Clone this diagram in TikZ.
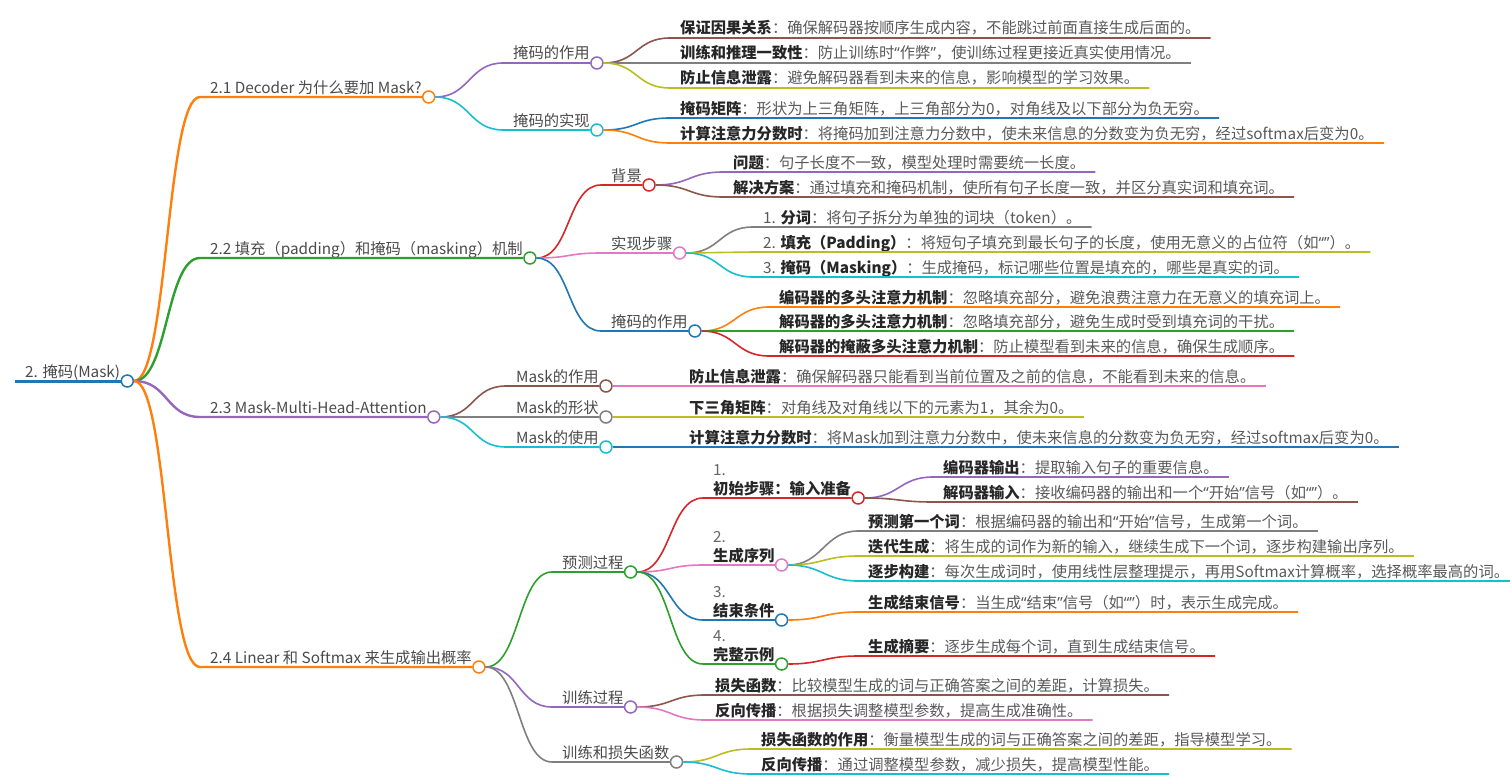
\documentclass[tikz,border=0pt]{standalone}
\usepackage{fontspec}
\setmainfont{Noto Sans CJK SC}
\newfontfamily\quotefont{Noto Sans}
\usetikzlibrary{calc}

\definecolor{cblue}{HTML}{1F77B4}
\definecolor{corange}{HTML}{FF7F0E}
\definecolor{cgreen}{HTML}{2CA02C}
\definecolor{cred}{HTML}{D62728}
\definecolor{cpurple}{HTML}{9467BD}
\definecolor{cbrown}{HTML}{8C564B}
\definecolor{cpink}{HTML}{E377C2}
\definecolor{cgray}{HTML}{7F7F7F}
\definecolor{colive}{HTML}{BCBD22}
\definecolor{ccyan}{HTML}{17BECF}
\definecolor{topicc}{HTML}{4A4A4A}
\definecolor{leafc}{HTML}{595959}
\definecolor{keyc}{HTML}{262626}
\definecolor{numc}{HTML}{666666}

\newcommand{\kw}[1]{\textbf{\color{keyc}#1}}
\newcommand{\oq}{{\quotefont “}}
\newcommand{\cq}{{\quotefont ”}}
% topic with a dot: [opts] parent, name, x, y, colour, text
\newcommand{\mmtopic}[7][]{%
  \coordinate (#3-s) at (#4,#5);
  \node[topic] (#3) at ([shift={(10pt,4pt)}]#3-s) {#7};
  \node[dot, draw=#6] (#3-d) at ([shift={(7pt,-4pt)}]#3.base east) {};
  \draw[link, #6, #1] (#2-d.east) to[curvy] (#3-s) -- (#3-d.west);
}
% numbered step: parent, name, x, y, colour, number, text
\newcommand{\mmstep}[7]{%
  \coordinate (#2-s) at (#3,#4);
  \node[topic] (#2) at ([shift={(10pt,4pt)}]#2-s) {\kw{#7}};
  \node[numtxt] (#2-n) at ([yshift=19pt]#2.base west) {#6};
  \node[dot, draw=#5] (#2-d) at ([shift={(7pt,-4pt)}]#2.base east) {};
  \draw[link, #5] (#1-d.east) to[curvy] (#2-s) -- (#2-d.west);
}
% leaf: parent, name, x, y, colour, text
\newcommand{\mmleaf}[6]{%
  \coordinate (#2-s) at (#3,#4);
  \node[leaf] (#2) at ([shift={(10pt,4pt)}]#2-s) {#6};
  \draw[link, #5] (#1-d.east) to[curvy] (#2-s) -- ([shift={(10pt,-4pt)}]#2.base east);
}

\begin{document}
\begin{tikzpicture}[
  x=1pt, y=-1pt,
  font=\fontsize{15.3}{18}\selectfont,
  topic/.style={anchor=base west, inner sep=0pt, text=topicc},
  leaf/.style={anchor=base west, inner sep=0pt, text=leafc},
  numtxt/.style={anchor=base west, inner sep=0pt, text=numc},
  dot/.style={circle, draw, fill=white, line width=1.5pt, minimum size=12pt, inner sep=0pt},
  link/.style={line width=1.6pt},
  trunk/.style={line width=2.4pt},
  curvy/.style={to path={.. controls +(34,0) and +(-34,0) .. (\tikztotarget)}}
]
  \useasboundingbox (0,0) rectangle (1510,784);

  % Root
  \coordinate (root-s) at (15,381);
  \node[topic] (root) at ([shift={(10pt,4pt)}]root-s) {2. 掩码(Mask)};
  \node[dot, draw=cblue] (root-d) at ([shift={(7pt,-4pt)}]root.base east) {};
  \draw[link, cblue, line width=3pt] (root-s) -- (root-d.west);

  % 2.1
  \mmtopic[trunk]{root}{a}{200}{97}{corange}{2.1 Decoder 为什么要加 Mask?}
  \mmtopic{a}{a1}{503}{63}{cpurple}{掩码的作用}
  \mmleaf{a1}{a11}{670}{38}{cbrown}{\kw{保证因果关系}：确保解码器按顺序生成内容，不能跳过前面直接生成后面的。}
  \mmleaf{a1}{a12}{670}{63}{cgray}{\kw{训练和推理一致性}：防止训练时\oq 作弊\cq ，使训练过程更接近真实使用情况。}
  \mmleaf{a1}{a13}{670}{88}{colive}{\kw{防止信息泄露}：避免解码器看到未来的信息，影响模型的学习效果。}
  \mmtopic{a}{a2}{503}{130}{ccyan}{掩码的实现}
  \mmleaf{a2}{a21}{670}{118}{cblue}{\kw{掩码矩阵}：形状为上三角矩阵，上三角部分为0，对角线及以下部分为负无穷。}
  \mmleaf{a2}{a22}{670}{143}{corange}{\kw{计算注意力分数时}：将掩码加到注意力分数中，使未来信息的分数变为负无穷，经过softmax后变为0。}

  % 2.2
  \mmtopic[trunk]{root}{b}{200}{258}{cgreen}{2.2 填充（padding）和掩码（masking）机制}
  \mmtopic{b}{b1}{601}{185}{cred}{背景}
  \mmleaf{b1}{b11}{723}{172}{cpurple}{\kw{问题}：句子长度不一致，模型处理时需要统一长度。}
  \mmleaf{b1}{b12}{723}{197}{cbrown}{\kw{解决方案}：通过填充和掩码机制，使所有句子长度一致，并区分真实词和填充词。}
  \mmtopic{b}{b2}{601}{253}{cpink}{实现步骤}
  \mmleaf{b2}{b21}{753}{227}{cgray}{1. \kw{分词}：将句子拆分为单独的词块（token）。}
  \mmleaf{b2}{b22}{753}{252}{colive}{2. \kw{填充（Padding）}：将短句子填充到最长句子的长度，使用无意义的占位符（如\oq\cq ）。}
  \mmleaf{b2}{b23}{753}{277}{ccyan}{3. \kw{掩码（Masking）}：生成掩码，标记哪些位置是填充的，哪些是真实的词。}
  \mmtopic{b}{b3}{601}{331}{cblue}{掩码的作用}
  \mmleaf{b3}{b31}{769}{307}{corange}{\kw{编码器的多头注意力机制}：忽略填充部分，避免浪费注意力在无意义的填充词上。}
  \mmleaf{b3}{b32}{769}{331}{cgreen}{\kw{解码器的多头注意力机制}：忽略填充部分，避免生成时受到填充词的干扰。}
  \mmleaf{b3}{b33}{769}{356}{cred}{\kw{解码器的掩蔽多头注意力机制}：防止模型看到未来的信息，确保生成顺序。}

  % 2.3
  \mmtopic[trunk]{root}{c}{200}{417}{cpurple}{2.3 Mask-Multi-Head-Attention}
  \mmtopic{c}{c1}{506}{386}{cbrown}{Mask的作用}
  \mmleaf{c1}{c11}{679}{386}{cpink}{\kw{防止信息泄露}：确保解码器只能看到当前位置及之前的信息，不能看到未来的信息。}
  \mmtopic{c}{c2}{506}{417}{cgray}{Mask的形状}
  \mmleaf{c2}{c21}{679}{417}{colive}{\kw{下三角矩阵}：对角线及对角线以下的元素为1，其余为0。}
  \mmtopic{c}{c3}{506}{447}{ccyan}{Mask的使用}
  \mmleaf{c3}{c31}{679}{447}{cblue}{\kw{计算注意力分数时}：将Mask加到注意力分数中，使未来信息的分数变为负无穷，经过softmax后变为0。}

  % 2.4
  \mmtopic[trunk]{root}{d}{200}{667}{corange}{2.4 Linear 和 Softmax 来生成输出概率}
  \mmtopic{d}{d1}{552}{572}{cgreen}{预测过程}
  \mmstep{d1}{d11}{703}{498}{cred}{1.}{初始步骤：输入准备}
  \mmleaf{d11}{d111}{933}{477}{cpurple}{\kw{编码器输出}：提取输入句子的重要信息。}
  \mmleaf{d11}{d112}{933}{502}{cbrown}{\kw{解码器输入}：接收编码器的输出和一个\oq 开始\cq 信号（如\oq\cq ）。}
  \mmstep{d1}{d12}{703}{565}{cpink}{2.}{生成序列}
  \mmleaf{d12}{d121}{858}{531}{cgray}{\kw{预测第一个词}：根据编码器的输出和\oq 开始\cq 信号，生成第一个词。}
  \mmleaf{d12}{d122}{858}{556}{colive}{\kw{迭代生成}：将生成的词作为新的输入，继续生成下一个词，逐步构建输出序列。}
  \mmleaf{d12}{d123}{858}{581}{ccyan}{\kw{逐步构建}：每次生成词时，使用线性层整理提示，再用Softmax计算概率，选择概率最高的词。}
  \mmstep{d1}{d13}{703}{620}{cblue}{3.}{结束条件}
  \mmleaf{d13}{d131}{858}{612}{corange}{\kw{生成结束信号}：当生成\oq 结束\cq 信号（如\oq\cq ）时，表示生成完成。}
  \mmstep{d1}{d14}{703}{664}{cgreen}{4.}{完整示例}
  \mmleaf{d14}{d141}{858}{656}{cred}{\kw{生成摘要}：逐步生成每个词，直到生成结束信号。}
  \mmtopic{d}{d2}{552}{707}{cpurple}{训练过程}
  \mmleaf{d2}{d21}{705}{695}{cbrown}{\kw{损失函数}：比较模型生成的词与正确答案之间的差距，计算损失。}
  \mmleaf{d2}{d22}{705}{720}{cpink}{\kw{反向传播}：根据损失调整模型参数，提高生成准确性。}
  \mmtopic{d}{d3}{552}{762}{cgray}{训练和损失函数}
  \mmleaf{d3}{d31}{751}{749}{colive}{\kw{损失函数的作用}：衡量模型生成的词与正确答案之间的差距，指导模型学习。}
  \mmleaf{d3}{d32}{751}{774}{ccyan}{\kw{反向传播}：通过调整模型参数，减少损失，提高模型性能。}
\end{tikzpicture}
\end{document}
